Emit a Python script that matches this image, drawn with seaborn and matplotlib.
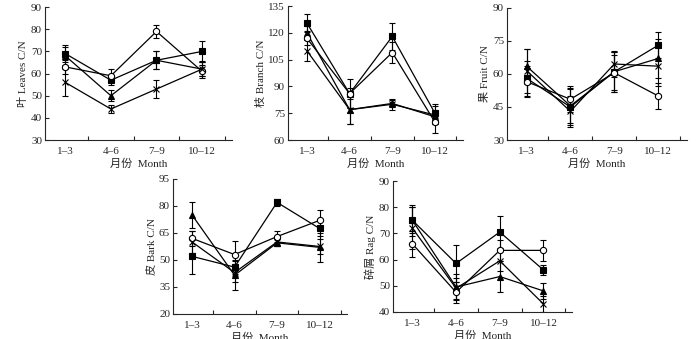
import numpy as np
import pandas as pd
import matplotlib
matplotlib.use("Agg")
import matplotlib.pyplot as plt
import seaborn as sns

sns.set_style("ticks")
plt.rcParams['font.family'] = ['Liberation Serif', 'Noto Sans CJK SC']
plt.rcParams['axes.unicode_minus'] = False

months = ["1–3", "4–6", "7–9", "10–12"]
series = ["A", "B", "C", "D"]  # square, triangle, open circle, x

# Leaves
leaves_A = [69, 57, 66, 70]
leaves_B = [68, 50, 66, 62]
leaves_C = [63, 59, 79, 61]
leaves_D = [56, 44, 53, 62]
leaves_eA = [4, 2, 4, 4.5]
leaves_eB = [4, 2.5, 4, 3]
leaves_eC = [3, 3, 3, 3]
leaves_eD = [6, 2, 4, 3]

# Branch
branch_A = [125.5, 86, 118, 75]
branch_B = [120, 77, 80.5, 73]
branch_C = [117, 86, 109, 70]
branch_D = [110, 77, 80, 74]
branch_eA = [5, 8, 7.5, 5]
branch_eB = [4, 8, 2, 4]
branch_eC = [4, 3, 6, 6]
branch_eD = [6, 8, 3, 5]

# Fruit
fruit_A = [58, 45, 61, 73]
fruit_B = [63.5, 45.5, 61, 67]
fruit_C = [56.5, 48.5, 60.5, 50]
fruit_D = [61.5, 43, 64.5, 63.5]
fruit_eA = [8, 8, 9, 6]
fruit_eB = [8, 8, 9, 9]
fruit_eC = [7, 6, 8, 6]
fruit_eD = [10, 7, 6, 9]

# Bark
bark_A = [52, 46, 82, 67.5]
bark_B = [75, 41.5, 59.5, 57]
bark_C = [62, 53, 63, 72]
bark_D = [60, 43, 60, 57.5]
bark_eA = [10, 4, 2, 4]
bark_eB = [7, 8, 2, 8]
bark_eC = [4, 7.5, 3, 5.5]
bark_eD = [6, 5, 2, 4]

# Rag
rag_A = [75, 58.5, 70.5, 56]
rag_B = [75, 49.5, 53.5, 48]
rag_C = [66, 47.5, 63.5, 63.5]
rag_D = [72, 49, 59.5, 43]
rag_eA = [6, 7, 6, 2]
rag_eB = [5, 5, 6, 3]
rag_eC = [5, 4, 4, 4]
rag_eD = [8, 4, 4, 3]

panels = [
    ("叶 Leaves C/N", [leaves_A, leaves_B, leaves_C, leaves_D],
     [leaves_eA, leaves_eB, leaves_eC, leaves_eD], (30, 90), 10,
     [0.064, 0.587, 0.267, 0.392]),
    ("枝 Branch C/N", [branch_A, branch_B, branch_C, branch_D],
     [branch_eA, branch_eB, branch_eC, branch_eD], (60, 135), 15,
     [0.411, 0.587, 0.250, 0.395]),
    ("果 Fruit C/N", [fruit_A, fruit_B, fruit_C, fruit_D],
     [fruit_eA, fruit_eB, fruit_eC, fruit_eD], (30, 90), 15,
     [0.724, 0.587, 0.257, 0.390]),
    ("皮 Bark C/N", [bark_A, bark_B, bark_C, bark_D],
     [bark_eA, bark_eB, bark_eC, bark_eD], (20, 95), 15,
     [0.247, 0.074, 0.249, 0.398]),
    ("碎屑 Rag C/N", [rag_A, rag_B, rag_C, rag_D],
     [rag_eA, rag_eB, rag_eC, rag_eD], (40, 90), 10,
     [0.561, 0.080, 0.256, 0.386]),
]

markers = {"A": "s", "B": "^", "C": "o", "D": "x"}
mfc = {"A": "black", "B": "black", "C": "white", "D": "black"}

fig = plt.figure(figsize=(7.0, 3.39), dpi=100)

for ylabel, vals, errs, ylim, step, rect in panels:
    ax = fig.add_axes(rect)
    rows = []
    for s, v in zip(series, vals):
        for i, y in enumerate(v):
            rows.append({"x": i, "y": y, "s": s})
    df = pd.DataFrame(rows)
    for s, v, e in zip(series, vals, errs):
        ax.errorbar(range(4), v, yerr=e, fmt="none", ecolor="black",
                    elinewidth=0.8, capsize=2.5, capthick=0.8, zorder=2)
    for s in series:
        sub = df[df.s == s]
        sns.lineplot(data=sub, x="x", y="y", ax=ax, color="black",
                     linewidth=0.9, marker=markers[s], markersize=4.5 if s != "D" else 5,
                     markerfacecolor=mfc[s], markeredgecolor="black",
                     markeredgewidth=0.8, zorder=3, legend=False)
    ax.set_xlim(-0.45, 3.65)
    ax.set_ylim(*ylim)
    ax.set_yticks(np.arange(ylim[0], ylim[1] + 0.1, step))
    ax.set_xticks(range(4))
    ax.set_xticklabels(months)
    ax.set_xticks([0.5, 1.5, 2.5, 3.5], minor=True)
    ax.tick_params(axis="x", which="major", length=0, labelsize=8, pad=5)
    ax.tick_params(axis="x", which="minor", direction="in", length=3, width=0.8)
    ax.tick_params(axis="y", direction="in", length=3, width=0.8, labelsize=8, pad=2)
    for sp in ["top", "right"]:
        ax.spines[sp].set_visible(False)
    for sp in ["left", "bottom"]:
        ax.spines[sp].set_linewidth(0.8)
    ax.set_ylabel(ylabel, fontsize=8, labelpad=2)
    ax.set_xlabel("月份  Month", fontsize=8, labelpad=2)

fig.savefig("out.png", dpi=100)
